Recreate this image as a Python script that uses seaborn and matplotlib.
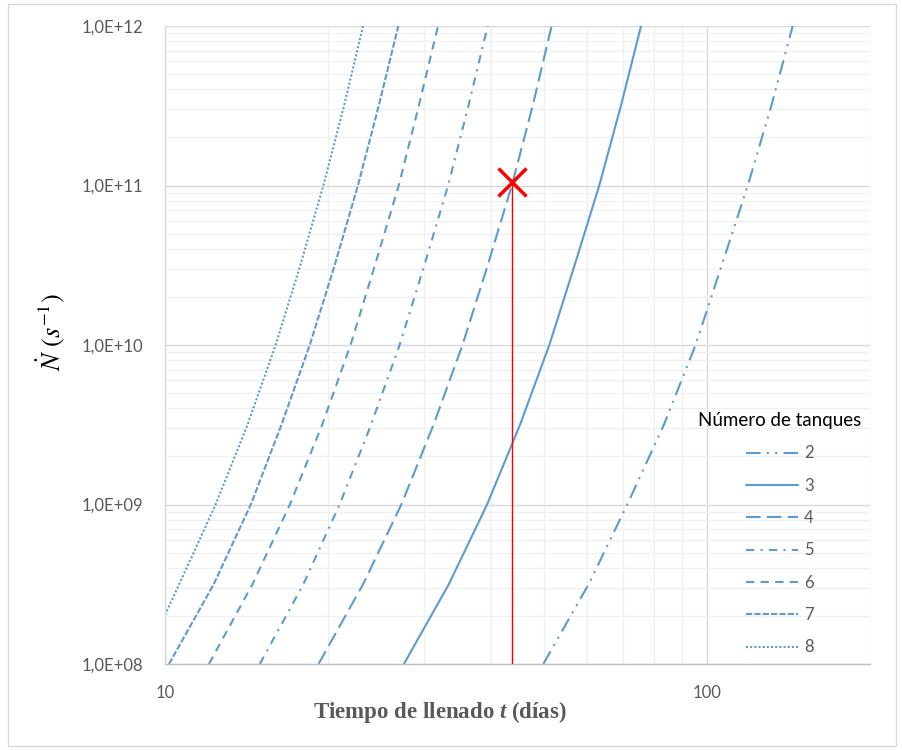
import matplotlib
matplotlib.use("Agg")
import matplotlib.pyplot as plt
from matplotlib.ticker import FixedLocator, NullFormatter, FixedFormatter, LogLocator
from matplotlib.patches import Rectangle
import seaborn as sns
import pandas as pd

# ---- data (t in days, N in s^-1) ----
n_all = [1e8, 3.16e8, 1e9, 3.16e9, 1e10, 3.16e10, 1e11, 3.16e11, 1e12]
t_2 = [49.9, 60.5, 71.3, 83.3, 95.3, 106.5, 119.0, 131.5, 144.0]
n_2 = n_all
t_3 = [27.6, 33.4, 39.3, 45.2, 51.2, 57.0, 63.3, 69.4, 75.6]
n_3 = n_all
t_4 = [19.2, 23.2, 27.3, 31.3, 35.4, 39.4, 43.65, 47.7, 51.7]
n_4 = n_all
t_5 = [14.96, 18.0, 21.0, 24.0, 27.1, 30.1, 33.3, 36.3, 39.4]
n_5 = n_all
t_6 = [12.05, 14.5, 17.0, 19.5, 22.0, 24.4, 27.0, 29.4, 31.9]
n_6 = n_all
t_7 = [10.17, 12.3, 14.4, 16.4, 18.5, 20.56, 22.7, 24.8, 26.95]
n_7 = n_all
t_8 = [10.0, 11.3, 12.4, 14.2, 16.0, 17.77, 19.6, 21.4, 23.2]
n_8 = [2.03e8, 5.0e8, 1e9, 3.16e9, 1e10, 3.16e10, 1e11, 3.16e11, 1e12]

series_names = ["2", "3", "4", "5", "6", "7", "8"]
series_t = [t_2, t_3, t_4, t_5, t_6, t_7, t_8]
series_n = [n_2, n_3, n_4, n_5, n_6, n_7, n_8]

marker_t = 43.65
marker_n = 1.05e11

y_ticks = [1e8, 1e9, 1e10, 1e11, 1e12]
y_tick_labels = ["1,0E+08", "1,0E+09", "1,0E+10", "1,0E+11", "1,0E+12"]
x_ticks = [10, 100]
x_tick_labels = ["10", "100"]

legend_title = "Número de tanques"
x_label = r"Tiempo de llenado $\mathit{t}$ (días)"
y_label = r"$\dot{N}\ (s^{-1})$"

# ---- style ----
sns.set_theme(style="white")
plt.rcParams["font.family"] = ["Lato", "DejaVu Sans"]
plt.rcParams["mathtext.fontset"] = "custom"
plt.rcParams["mathtext.rm"] = "Liberation Serif:bold"
plt.rcParams["mathtext.it"] = "Liberation Serif:italic:bold"
plt.rcParams["mathtext.bf"] = "Liberation Serif:bold"

blue = "#5B9BD5"
grid_major = "#D9D9D9"
grid_minor = "#F0F0F0"
text_grey = "#595959"

styles = {
    "2": (0, (7, 3, 1, 3, 1, 3)),
    "3": "-",
    "4": (0, (7, 3)),
    "5": (0, (4, 3, 1, 3)),
    "6": (0, (4, 3)),
    "7": (0, (3, 1)),
    "8": (0, (1, 1)),
}

W, H = 903, 750
fig = plt.figure(figsize=(W / 100, H / 100), dpi=100)
L, R, T, B = 165, 870, 26, 664
ax = fig.add_axes([L / W, 1 - B / H, (R - L) / W, (B - T) / H])

fig.patches.append(Rectangle((8 / W, 4 / H), (896 - 8) / W, (746 - 4) / H,
                             transform=fig.transFigure, fill=False,
                             edgecolor=grid_major, lw=1.0))

ax.set_xscale("log")
ax.set_yscale("log")

for name, tt, nn in zip(series_names, series_t, series_n):
    df = pd.DataFrame({"t": tt, "N": nn})
    sns.lineplot(data=df, x="t", y="N", ax=ax, color=blue, lw=1.5,
                 linestyle=styles[name], label=name, estimator=None, sort=False)

ax.plot([marker_t, marker_t], [1e8, marker_n], color="#FF0000", lw=1.0, zorder=5)
ax.plot([marker_t], [marker_n], marker="x", color="#FF0000", ms=20, mew=2.5,
        ls="none", zorder=6)

ax.set_xlim(10, 200)
ax.set_ylim(1e8, 1e12)

# grids
ax.set_axisbelow(True)
ax.xaxis.set_major_locator(FixedLocator(x_ticks))
ax.xaxis.set_major_formatter(FixedFormatter(x_tick_labels))
ax.xaxis.set_minor_locator(LogLocator(base=10, subs=range(2, 10)))
ax.xaxis.set_minor_formatter(NullFormatter())
ax.yaxis.set_major_locator(FixedLocator(y_ticks))
ax.yaxis.set_major_formatter(FixedFormatter(y_tick_labels))
ax.yaxis.set_minor_locator(LogLocator(base=10, subs=range(2, 10)))
ax.yaxis.set_minor_formatter(NullFormatter())
ax.grid(which="major", color=grid_major, lw=1.0)
ax.grid(which="minor", color=grid_minor, lw=1.0)

for s in ["top", "right"]:
    ax.spines[s].set_visible(False)
ax.spines["left"].set_color(grid_major)
ax.spines["bottom"].set_color("#BFBFBF")
ax.spines["left"].set_linewidth(1.0)
ax.spines["bottom"].set_linewidth(1.0)

ax.tick_params(axis="x", which="both", direction="out", length=4, width=1,
               color="#BFBFBF", labelsize=12, labelcolor=text_grey, pad=11)
ax.tick_params(axis="y", which="both", length=0, labelsize=12,
               labelcolor=text_grey, pad=16)
ax.set_xlabel("")
ax.set_ylabel("")

fig.text(440 / W, 1 - 712 / H, x_label, ha="center", va="center",
         fontsize=16.5, color=text_grey, family="Liberation Serif",
         fontweight="bold")
fig.text(51 / W, 1 - 332 / H, y_label, ha="center", va="center",
         rotation=90, fontsize=19, color="black", math_fontfamily="stix")

handles, labels = ax.get_legend_handles_labels()
leg = ax.legend(handles, labels, title=legend_title, frameon=False,
                loc="lower right", bbox_to_anchor=(868 / W, 1 - 662 / H),
                bbox_transform=fig.transFigure, fontsize=12,
                title_fontsize=13.5, handlelength=3.15, handletextpad=0.35,
                labelspacing=0.98, borderaxespad=0)
for txt in leg.get_texts():
    txt.set_color(text_grey)
leg.get_title().set_color("black")

fig.savefig("out.png", dpi=100)
